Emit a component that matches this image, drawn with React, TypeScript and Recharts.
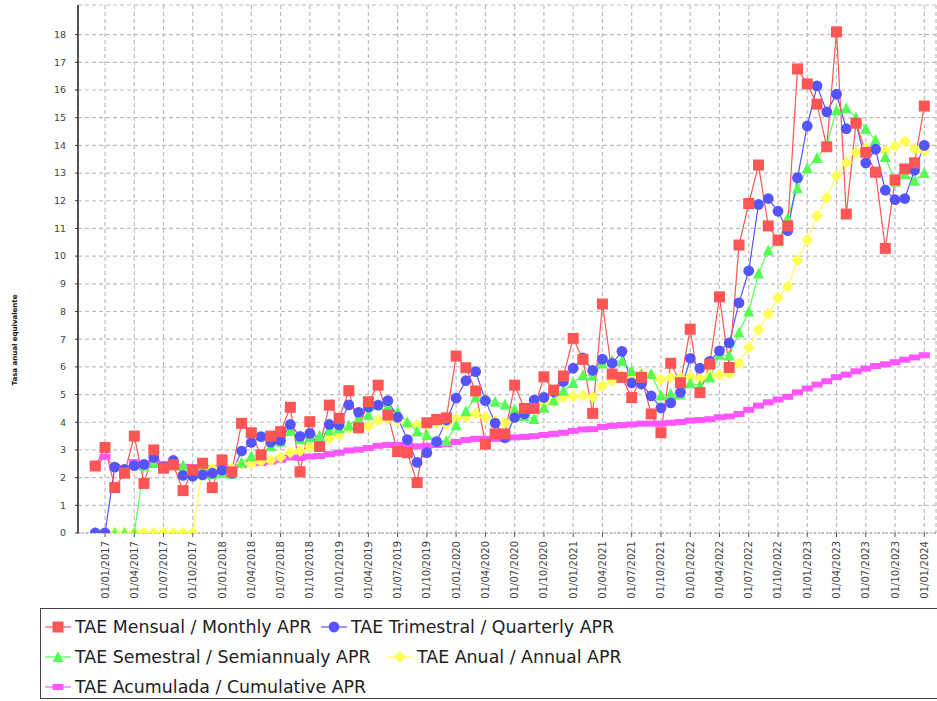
import React from 'react';
import { LineChart, Line, XAxis, YAxis, CartesianGrid, Legend } from 'recharts';

// x labels, one every 3 months
const tickLabels = [
  '01/01/2017', '01/04/2017', '01/07/2017', '01/10/2017',
  '01/01/2018', '01/04/2018', '01/07/2018', '01/10/2018',
  '01/01/2019', '01/04/2019', '01/07/2019', '01/10/2019',
  '01/01/2020', '01/04/2020', '01/07/2020', '01/10/2020',
  '01/01/2021', '01/04/2021', '01/07/2021', '01/10/2021',
  '01/01/2022', '01/04/2022', '01/07/2022', '01/10/2022',
  '01/01/2023', '01/04/2023', '01/07/2023', '01/10/2023',
  '01/01/2024',
];
const yTicks = [0, 1, 2, 3, 4, 5, 6, 7, 8, 9, 10, 11, 12, 13, 14, 15, 16, 17, 18];

// Dec 2016 .. Jan 2024, one value per month
const monthly = [
  2.42, 3.09, 1.64, 2.16, 3.5, 1.79, 3.0, 2.34, 2.46, 1.53, 2.27, 2.52, 1.64,
  2.64, 2.21, 3.96, 3.62, 2.82, 3.5, 3.66, 4.54, 2.21, 4.02, 3.12, 4.62,
  4.14, 5.14, 3.8, 4.74, 5.34, 4.26, 2.94, 2.9, 1.82, 3.98, 4.1, 4.16,
  6.39, 5.97, 5.13, 3.21, 3.58, 3.58, 5.34, 4.5, 4.5, 5.64, 5.16, 5.67,
  7.03, 6.27, 4.32, 8.27, 5.74, 5.62, 4.89, 5.62, 4.3, 3.62, 6.13, 5.43,
  7.36, 5.07, 6.1, 8.53, 5.98, 10.4, 11.9, 13.29, 11.09, 10.58, 11.09, 16.76,
  16.22, 15.49, 13.95, 18.1, 11.52, 14.8, 13.75, 13.03, 10.28, 12.75, 13.15, 13.37,
  15.42,
];
const quarterly = [
  0, 0, 2.38, 2.3, 2.43, 2.48, 2.73, 2.38, 2.62, 2.08, 2.05, 2.1, 2.16,
  2.27, 2.16, 2.96, 3.27, 3.48, 3.28, 3.34, 3.92, 3.49, 3.6, 3.12, 3.92,
  3.9, 4.63, 4.36, 4.55, 4.62, 4.78, 4.18, 3.37, 2.55, 2.9, 3.3, 4.08,
  4.87, 5.5, 5.83, 4.78, 3.97, 3.44, 4.17, 4.3, 4.8, 4.9, 5.1, 5.47,
  5.95, 6.32, 5.87, 6.28, 6.13, 6.56, 5.42, 5.38, 4.95, 4.52, 4.7, 5.08,
  6.31, 5.95, 6.2, 6.58, 6.87, 8.31, 9.47, 11.87, 12.08, 11.62, 10.92, 12.83,
  14.7, 16.15, 15.21, 15.85, 14.6, 14.81, 13.37, 13.86, 12.38, 12.04, 12.08, 13.1,
  14.0,
];
const semiannual = [
  0, 0, 0, 0, 0, 2.43, 2.53, 2.41, 2.54, 2.44, 2.23, 2.35, 2.13,
  2.18, 2.14, 2.54, 2.77, 2.82, 3.13, 3.3, 3.68, 3.39, 3.46, 3.51, 3.7,
  3.78, 3.88, 4.14, 4.26, 4.63, 4.57, 4.37, 4.0, 3.67, 3.54, 3.33, 3.32,
  3.89, 4.4, 4.9, 4.83, 4.74, 4.64, 4.47, 4.22, 4.12, 4.52, 4.79, 5.14,
  5.42, 5.71, 5.68, 6.12, 6.22, 6.21, 5.85, 5.74, 5.74, 4.97, 5.03, 5.0,
  5.41, 5.32, 5.62, 6.44, 6.41, 7.24, 8.0, 9.37, 10.2, 10.54, 11.39, 12.45,
  13.17, 13.54, 14.02, 15.27, 15.34, 15.01, 14.6, 14.19, 13.58, 12.69, 12.96, 12.72,
  13.0,
];
const annual = [
  0, 0, 0, 0, 0, 0, 0, 0, 0, 0, 0, 2.39, 2.33,
  2.29, 2.34, 2.49, 2.5, 2.58, 2.63, 2.74, 2.91, 2.97, 3.11, 3.16, 3.41,
  3.54, 3.78, 3.77, 3.86, 4.07, 4.13, 4.07, 3.94, 3.9, 3.9, 3.98, 3.94,
  4.13, 4.2, 4.31, 4.18, 4.04, 3.98, 4.18, 4.31, 4.54, 4.68, 4.76, 4.89,
  4.94, 4.97, 4.9, 5.32, 5.5, 5.67, 5.63, 5.73, 5.71, 5.54, 5.62, 5.6,
  5.63, 5.58, 5.68, 5.7, 5.75, 6.12, 6.7, 7.34, 7.91, 8.49, 8.9, 9.85,
  10.58, 11.45, 12.11, 12.9, 13.37, 13.73, 13.89, 13.87, 13.8, 13.98, 14.15, 13.87,
  13.8,
];
const cumulative = [
  2.42, 2.75, 2.38, 2.33, 2.56, 2.43, 2.51, 2.49, 2.49, 2.39, 2.38, 2.39, 2.34,
  2.36, 2.35, 2.45, 2.52, 2.53, 2.58, 2.64, 2.73, 2.71, 2.76, 2.78, 2.85,
  2.9, 2.98, 3.01, 3.07, 3.15, 3.18, 3.18, 3.17, 3.13, 3.15, 3.18, 3.21,
  3.29, 3.36, 3.4, 3.4, 3.4, 3.41, 3.45, 3.47, 3.5, 3.54, 3.58, 3.62,
  3.69, 3.74, 3.75, 3.83, 3.87, 3.9, 3.92, 3.95, 3.95, 3.95, 3.98, 4.01,
  4.06, 4.08, 4.11, 4.18, 4.21, 4.3, 4.45, 4.6, 4.72, 4.82, 4.92, 5.08,
  5.22, 5.36, 5.48, 5.63, 5.72, 5.84, 5.94, 6.03, 6.09, 6.17, 6.26, 6.34,
  6.42,
];

// month index: -1 = Dec 2016, 0 = Jan 2017 ...
const data = monthly.map((v, k) => ({
  m: k - 1,
  monthly: v,
  quarterly: quarterly[k],
  semiannual: semiannual[k],
  annual: annual[k],
  cumulative: cumulative[k],
}));
const tickIdx = tickLabels.map((_, k) => k * 3);

const RED = '#FF5555';
const BLUE = '#5555FF';
const GREEN = '#55FF55';
const YELLOW = '#FFFF55';
const MAGENTA = '#FF55FF';

type Kind = 'square' | 'circle' | 'triangle' | 'diamond' | 'rect';

const Marker = ({ kind, cx, cy, color }: { kind: Kind; cx: number; cy: number; color: string }) => {
  if (cx == null || cy == null) return null;
  switch (kind) {
    case 'square':
      return <rect x={cx - 5.5} y={cy - 5.5} width={11} height={11} fill={color} />;
    case 'circle':
      return <circle cx={cx} cy={cy} r={5.4} fill={color} />;
    case 'triangle':
      return <polygon points={`${cx},${cy - 6} ${cx + 5.5},${cy + 5} ${cx - 5.5},${cy + 5}`} fill={color} />;
    case 'diamond':
      return <polygon points={`${cx},${cy - 6} ${cx + 6},${cy} ${cx},${cy + 6} ${cx - 6},${cy}`} fill={color} />;
    default:
      return <rect x={cx - 5.5} y={cy - 3} width={11} height={6} fill={color} />;
  }
};

const makeDot = (kind: Kind, color: string) => (p: any) =>
  <Marker key={`${kind}-${p.index}`} kind={kind} cx={p.cx} cy={p.cy} color={color} />;

const XTick = (props: any) => {
  const { x, y, payload } = props;
  const label = tickLabels[Math.round(payload.value / 3)];
  return (
    <text x={x} y={y} transform={`rotate(-90, ${x}, ${y})`} textAnchor="end" dy="0.35em"
      fontSize={10} fill="#444" fontFamily="DejaVu Sans">
      {label}
    </text>
  );
};

const YTitle = () => (
  <text x={15} y={340} transform="rotate(-90, 15, 340)" textAnchor="middle" dy="0.35em"
    fontSize={7} fontWeight="bold" fill="#111" fontFamily="DejaVu Sans">
    Tasa anual equivalente
  </text>
);

const legendItems = [
  { label: 'TAE Mensual / Monthly APR', kind: 'square' as Kind, color: RED, x: 17, y: 18 },
  { label: 'TAE Trimestral / Quarterly APR', kind: 'circle' as Kind, color: BLUE, x: 293, y: 18 },
  { label: 'TAE Semestral / Semiannualy APR', kind: 'triangle' as Kind, color: GREEN, x: 17, y: 48 },
  { label: 'TAE Anual / Annual APR', kind: 'diamond' as Kind, color: YELLOW, x: 359, y: 48 },
  { label: 'TAE Acumulada / Cumulative APR', kind: 'rect' as Kind, color: MAGENTA, x: 17, y: 78 },
];

const LegendBox = () => (
  <div style={{
    position: 'relative', width: 910, height: 91, border: '1px solid #444',
    boxSizing: 'border-box', background: '#fff',
  }}>
    {legendItems.map((it) => (
      <React.Fragment key={it.label}>
        <svg width={30} height={16} style={{ position: 'absolute', left: it.x - 15, top: it.y - 8 }}>
          <line x1={2} y1={8} x2={28} y2={8} stroke={it.color} strokeWidth={1.2} />
          <Marker kind={it.kind} cx={15} cy={8} color={it.color} />
        </svg>
        <div style={{
          position: 'absolute', left: it.x + 17, top: it.y - 11, lineHeight: '22px',
          fontSize: 17.4, fontFamily: 'DejaVu Sans', color: '#222', whiteSpace: 'nowrap',
        }}>
          {it.label}
        </div>
      </React.Fragment>
    ))}
  </div>
);

export default function App() {
  return (
    <div style={{ position: 'absolute', left: 0, top: 0, width: 937, height: 701, overflow: 'hidden', background: '#fff' }}>
      <LineChart width={937} height={701} data={data} margin={{ top: 5, right: 1, bottom: 0, left: 0 }}>
        <CartesianGrid stroke="#bebebe" strokeDasharray="4 3" strokeWidth={1.2} />
        <XAxis
          type="number"
          dataKey="m"
          domain={[-2.77, 85.2]}
          allowDataOverflow
          ticks={tickIdx}
          interval={0}
          height={168}
          tickSize={4}
          tickMargin={4}
          tick={<XTick />}
          tickLine={{ stroke: '#555' }}
          axisLine={{ stroke: '#999', strokeDasharray: '2 2' }}
        />
        <YAxis
          type="number"
          domain={[0, 19.07]}
          allowDataOverflow
          ticks={yTicks}
          interval={0}
          width={78}
          tickSize={3}
          tickMargin={9}
          tick={{ fontSize: 9.5, fill: '#444', fontFamily: 'DejaVu Sans' }}
          tickLine={{ stroke: '#333' }}
          axisLine={{ stroke: '#222', strokeWidth: 1.5 }}
          label={<YTitle />}
        />
        <Legend
          verticalAlign="middle"
          content={() => <LegendBox />}
          wrapperStyle={{ left: 40, top: 608, width: 910, height: 91 }}
        />
        <Line dataKey="cumulative" stroke={MAGENTA} strokeWidth={1.2} dot={makeDot('rect', MAGENTA)} activeDot={false} isAnimationActive={false} />
        <Line dataKey="annual" stroke={YELLOW} strokeWidth={1.2} dot={makeDot('diamond', YELLOW)} activeDot={false} isAnimationActive={false} />
        <Line dataKey="semiannual" stroke={GREEN} strokeWidth={1.2} dot={makeDot('triangle', GREEN)} activeDot={false} isAnimationActive={false} />
        <Line dataKey="quarterly" stroke={BLUE} strokeWidth={1.2} dot={makeDot('circle', BLUE)} activeDot={false} isAnimationActive={false} />
        <Line dataKey="monthly" stroke={RED} strokeWidth={1.2} dot={makeDot('square', RED)} activeDot={false} isAnimationActive={false} />
      </LineChart>
    </div>
  );
}
